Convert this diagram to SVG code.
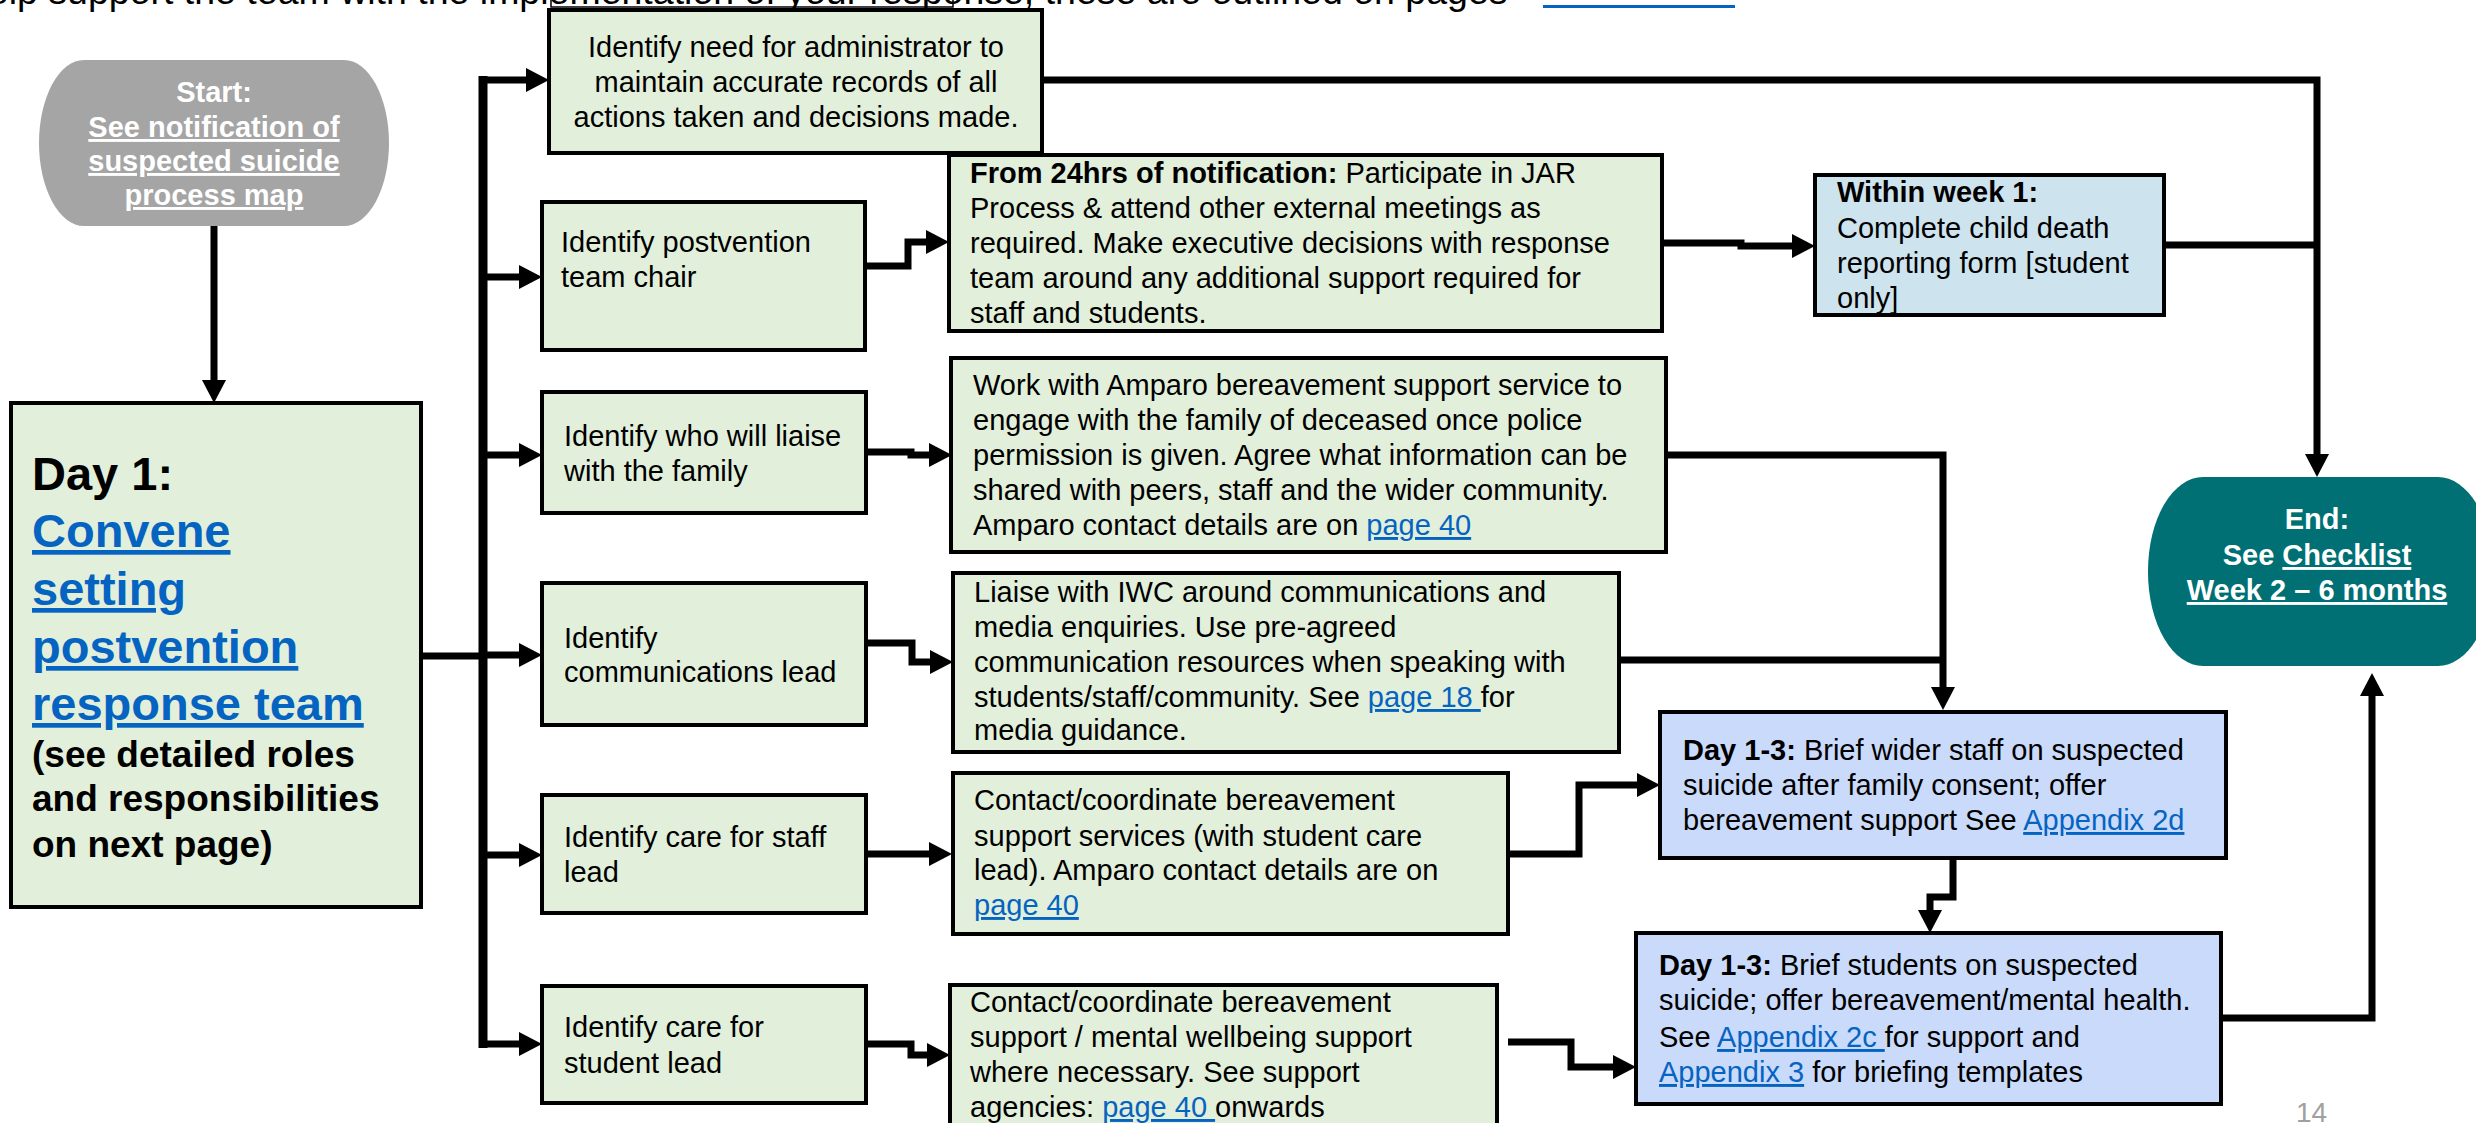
<svg xmlns="http://www.w3.org/2000/svg" width="2476" height="1123" viewBox="0 0 2476 1123">
<defs>
<style>
.t{font-family:"Liberation Sans",Arial,sans-serif;font-size:29px;fill:#000}
.b{font-weight:bold}
.lk{fill:#0563c1;text-decoration:underline}
.u{text-decoration:underline}
.box{fill:#e2efda;stroke:#000;stroke-width:4}
.blue{fill:#c9dafa;stroke:#000;stroke-width:4}
.wk{fill:#cde3ed;stroke:#000;stroke-width:4}
.pw{font-family:"Liberation Sans",Arial,sans-serif;font-size:29px;font-weight:bold;fill:#fff;text-anchor:middle}
.c{fill:none;stroke:#000;stroke-width:7;stroke-linejoin:miter;marker-end:url(#ah)}
.c0{fill:none;stroke:#000;stroke-width:7;stroke-linejoin:miter}
</style>
<marker id="ah" markerUnits="userSpaceOnUse" markerWidth="24" markerHeight="24" refX="8" refY="12" orient="auto">
<path d="M0,0 L23,12 L0,24 z" fill="#000"/>
</marker>
</defs>
<rect width="2476" height="1123" fill="#fff"/>

<g id="page-top">
<text class="t" x="-33" y="4" style="font-size:37.5px">help support the team with the implementation of your response, these are outlined on pages</text>
<rect x="1543" y="5" width="192" height="3" fill="#0563c1"/>
<path d="M551,0 V7 H953 V0" fill="none" stroke="#000" stroke-width="1.5"/>
</g>

<g id="connectors">
<path class="c" d="M214,226 V388"/>
<path class="c0" d="M421,656 H483"/>
<path class="c0" d="M483,76 V1048" style="stroke-width:9"/>
<path class="c" d="M483,80 H534"/>
<path class="c" d="M483,277 H527"/>
<path class="c" d="M483,455 H527"/>
<path class="c" d="M483,655 H527"/>
<path class="c" d="M483,855 H527"/>
<path class="c" d="M483,1044 H527"/>
<path class="c" d="M865,266 H908 V242 H934"/>
<path class="c" d="M866,452 H911 V455 H937"/>
<path class="c" d="M866,643 H912 V662 H938"/>
<path class="c" d="M866,854 H937"/>
<path class="c" d="M866,1044 H911 V1055 H935"/>
<path class="c" d="M1042,80 H2317 V462"/>
<path class="c" d="M1662,243 H1741 V246 H1800"/>
<path class="c0" d="M2164,245 H2317"/>
<path class="c" d="M1666,455 H1943 V695"/>
<path class="c0" d="M1619,660 H1943"/>
<path class="c" d="M1508,854 H1579 V785 H1645"/>
<path class="c" d="M1953,858 V897 H1930 V918"/>
<path class="c" d="M1508,1042 H1571 V1067 H1621"/>
<path class="c" d="M2221,1018 H2372 V688"/>
</g>

<g id="start">
<rect x="39" y="60" width="350" height="166" rx="45" ry="83" fill="#a5a5a5"/>
<text class="pw" x="214" y="102">Start:</text>
<text class="pw u" x="214" y="137">See notification of</text>
<text class="pw u" x="214" y="171">suspected suicide</text>
<text class="pw u" x="214" y="205">process map</text>
</g>

<g id="day1">
<rect class="box" x="11" y="403" width="410" height="504"/>
<text class="t b" x="32" y="490" style="font-size:47px">Day 1:</text>
<text class="t b lk" x="32" y="547" style="font-size:47px">Convene</text>
<text class="t b lk" x="32" y="605" style="font-size:47px">setting</text>
<text class="t b lk" x="32" y="663" style="font-size:47px">postvention</text>
<text class="t b lk" x="32" y="720" style="font-size:47px">response team</text>
<text class="t b" x="32" y="767" style="font-size:37px">(see detailed roles</text>
<text class="t b" x="32" y="811" style="font-size:37px">and responsibilities</text>
<text class="t b" x="32" y="857" style="font-size:37px">on next page)</text>
</g>

<g id="admin">
<rect class="box" x="549" y="10" width="493" height="143"/>
<text class="t" x="796" y="57" text-anchor="middle">Identify need for administrator to</text>
<text class="t" x="796" y="92" text-anchor="middle">maintain accurate records of all</text>
<text class="t" x="796" y="127" text-anchor="middle">actions taken and decisions made.</text>
</g>

<g id="chair">
<rect class="box" x="542" y="202" width="323" height="148"/>
<text class="t" x="561" y="252">Identify postvention</text>
<text class="t" x="561" y="287">team chair</text>
</g>

<g id="jar">
<rect class="box" x="949" y="155" width="713" height="176"/>
<text class="t" x="970" y="183"><tspan class="b">From 24hrs of notification:</tspan> Participate in JAR</text>
<text class="t" x="970" y="218">Process &amp; attend other external meetings as</text>
<text class="t" x="970" y="253">required. Make executive decisions with response</text>
<text class="t" x="970" y="288">team around any additional support required for</text>
<text class="t" x="970" y="323">staff and students.</text>
</g>

<g id="week1">
<rect class="wk" x="1815" y="175" width="349" height="140"/>
<text class="t" x="1837" y="202"><tspan class="b">Within week 1:</tspan></text>
<text class="t" x="1837" y="238">Complete child death</text>
<text class="t" x="1837" y="273">reporting form [student</text>
<text class="t" x="1837" y="308">only]</text>
</g>

<g id="liaise">
<rect class="box" x="542" y="392" width="324" height="121"/>
<text class="t" x="564" y="446">Identify who will liaise</text>
<text class="t" x="564" y="481">with the family</text>
</g>

<g id="amparo">
<rect class="box" x="951" y="358" width="715" height="194"/>
<text class="t" x="973" y="395">Work with Amparo bereavement support service to</text>
<text class="t" x="973" y="430">engage with the family of deceased once police</text>
<text class="t" x="973" y="465">permission is given. Agree what information can be</text>
<text class="t" x="973" y="500">shared with peers, staff and the wider community.</text>
<text class="t" x="973" y="535">Amparo contact details are on <tspan class="lk">page 40</tspan></text>
</g>

<g id="comms">
<rect class="box" x="542" y="583" width="324" height="142"/>
<text class="t" x="564" y="648">Identify</text>
<text class="t" x="564" y="682">communications lead</text>
</g>

<g id="iwc">
<rect class="box" x="953" y="573" width="666" height="179"/>
<text class="t" x="974" y="602">Liaise with IWC around communications and</text>
<text class="t" x="974" y="637">media enquiries. Use pre-agreed</text>
<text class="t" x="974" y="672">communication resources when speaking with</text>
<text class="t" x="974" y="707">students/staff/community. See <tspan class="lk">page 18 </tspan>for</text>
<text class="t" x="974" y="740">media guidance.</text>
</g>

<g id="staff">
<rect class="box" x="542" y="795" width="324" height="118"/>
<text class="t" x="564" y="847">Identify care for staff</text>
<text class="t" x="564" y="882">lead</text>
</g>

<g id="contact-staff">
<rect class="box" x="953" y="773" width="555" height="161"/>
<text class="t" x="974" y="810">Contact/coordinate bereavement</text>
<text class="t" x="974" y="846">support services (with student care</text>
<text class="t" x="974" y="880">lead). Amparo contact details are on</text>
<text class="t" x="974" y="915"><tspan class="lk">page 40</tspan></text>
</g>

<g id="student">
<rect class="box" x="542" y="986" width="324" height="117"/>
<text class="t" x="564" y="1037">Identify care for</text>
<text class="t" x="564" y="1073">student lead</text>
</g>

<g id="contact-student">
<rect class="box" x="950" y="985" width="547" height="150"/>
<text class="t" x="970" y="1012">Contact/coordinate bereavement</text>
<text class="t" x="970" y="1047">support / mental wellbeing support</text>
<text class="t" x="970" y="1082">where necessary. See support</text>
<text class="t" x="970" y="1117">agencies: <tspan class="lk">page 40 </tspan>onwards</text>
</g>

<g id="brief-staff">
<rect class="blue" x="1660" y="712" width="566" height="146"/>
<text class="t" x="1683" y="760"><tspan class="b">Day 1-3:</tspan> Brief wider staff on suspected</text>
<text class="t" x="1683" y="795">suicide after family consent; offer</text>
<text class="t" x="1683" y="830">bereavement support See <tspan class="lk">Appendix 2d</tspan></text>
</g>

<g id="brief-students">
<rect class="blue" x="1636" y="933" width="585" height="171"/>
<text class="t" x="1659" y="975"><tspan class="b">Day 1-3:</tspan> Brief students on suspected</text>
<text class="t" x="1659" y="1010">suicide; offer bereavement/mental health.</text>
<text class="t" x="1659" y="1047">See <tspan class="lk">Appendix 2c </tspan>for support and</text>
<text class="t" x="1659" y="1082"><tspan class="lk">Appendix 3</tspan> for briefing templates</text>
</g>

<g id="end">
<rect x="2148" y="477" width="345" height="189" rx="55" ry="94" fill="#007075"/>
<text class="pw" x="2317" y="529">End:</text>
<text class="pw" x="2317" y="565">See <tspan class="u">Checklist</tspan></text>
<text class="pw u" x="2317" y="600">Week 2 – 6 months</text>
</g>

<g id="page-number">
<text x="2296" y="1122" style="font-family:'Liberation Sans Narrow','Liberation Sans',sans-serif;font-size:28px;fill:#a0a0a0">14</text>
</g>
</svg>
